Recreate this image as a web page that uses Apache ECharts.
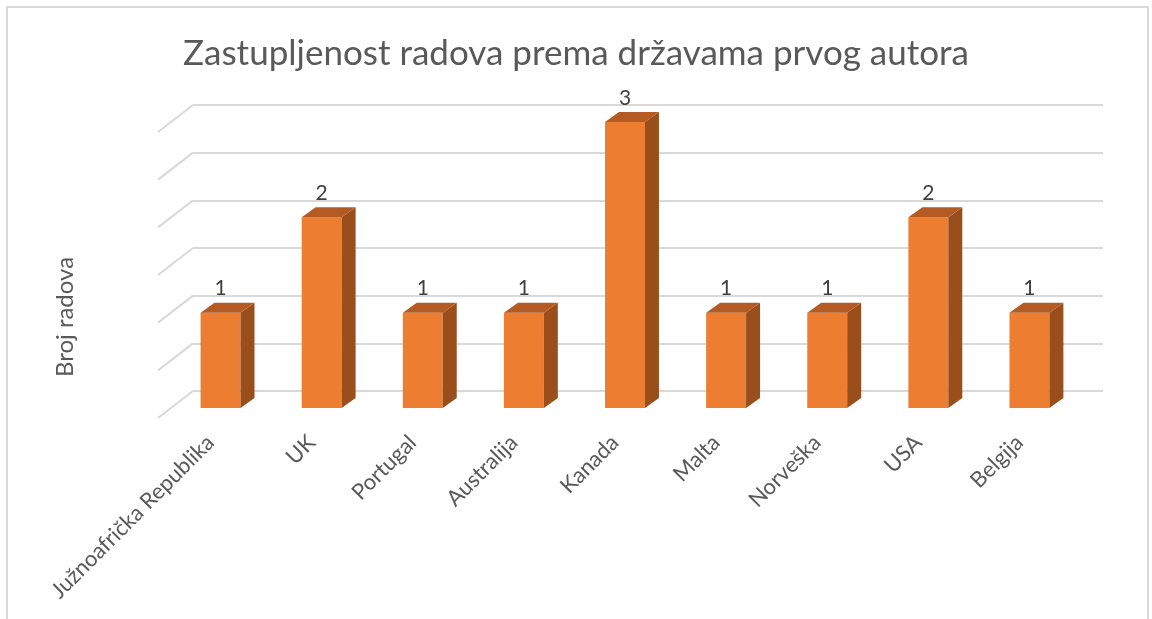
<!DOCTYPE html>
<html><head><meta charset="utf-8">
<script src="https://cdn.jsdelivr.net/npm/echarts@6/dist/echarts.min.js"></script>
<style>html,body{margin:0;padding:0;background:#fff}#c{width:1152px;height:619px}</style>
</head><body><div id="c"></div>
<script>
const categories = ['Južnoafrička Republika','UK','Portugal','Australija','Kanada','Malta','Norveška','USA','Belgija'];
const values = [1,2,1,1,3,1,1,2,1];
const yTicks = [0,0.5,1,1.5,2,2.5,3];
const titleText = 'Zastupljenost radova prema državama prvog autora';
const yAxisName = 'Broj radova';

const FONT = 'Lato, Carlito, "Liberation Sans", sans-serif';
const chart = echarts.init(document.getElementById('c'), null, {renderer:'canvas'});

function renderBar(params, api){
  const i = api.value(0), v = api.value(1);
  const top = api.coord([i, v]);
  const base = api.coord([i, 0]);
  const band = api.size([1,0])[0];
  const w = band*0.395;
  const dx = w*0.35, dy = w*0.25;
  const x0 = top[0]-w/2, x1 = top[0]+w/2;
  const yT = top[1], yB = base[1];
  return {type:'group', children:[
    {type:'rect', shape:{x:x0,y:yT,width:w,height:yB-yT}, style:{fill:'#ED7D31'}},
    {type:'polygon', shape:{points:[[x1,yT],[x1+dx,yT-dy],[x1+dx,yB-dy],[x1,yB]]}, style:{fill:'#9A4E1C'}},
    {type:'polygon', shape:{points:[[x0,yT],[x0+dx,yT-dy],[x1+dx,yT-dy],[x1,yT]]}, style:{fill:'#B35B22'}},
    {type:'text', x: top[0], y: yT-24, style:{text:String(v), textAlign:'center', textVerticalAlign:'middle', fontSize:21, fontFamily:FONT, fill:'#404040'}}
  ]};
}
function renderWall(params, api){
  const v = api.value(1);
  const p = api.coord([0, v]);
  const x = params.coordSys.x;
  return {type:'line', shape:{x1:x, y1:p[1], x2:x-35, y2:p[1]+27}, style:{stroke:'#D9D9D9', lineWidth:2}};
}

chart.setOption({
  animation:false,
  backgroundColor:'#fff',
  title:{text:titleText, left:'center', top:31, textStyle:{fontSize:35, fontWeight:'normal', color:'#595959', fontFamily:FONT}},
  grid:[
    {left:193, right:49, top:105, bottom:228},
    {left:170, right:72, top:122, bottom:211},
    {left:160, right:82, top:122, bottom:211}
  ],
  xAxis:[
    {gridIndex:0, type:'category', data:categories, show:false},
    {gridIndex:1, type:'category', data:categories, show:false},
    {gridIndex:2, type:'category', data:categories, axisLine:{show:false}, axisTick:{show:false},
     axisLabel:{rotate:45, margin:31, interval:0, fontSize:22, color:'#595959', fontFamily:FONT}}
  ],
  yAxis:[
    {gridIndex:0, type:'value', min:0, max:3, interval:0.5, axisLabel:{show:false}, axisLine:{show:false}, axisTick:{show:false},
     splitLine:{lineStyle:{color:'#D9D9D9', width:2}}},
    {gridIndex:1, type:'value', min:0, max:3, interval:0.5, show:false},
    {gridIndex:2, type:'value', min:0, max:3, interval:0.5, show:false}
  ],
  graphic:[
    {type:'rect', shape:{x:7, y:7, width:1141, height:700}, style:{fill:null, stroke:'#D9D9D9', lineWidth:2}, silent:true},
    {type:'text', x:65, y:317, rotation:Math.PI/2, style:{text:yAxisName, textAlign:'center', textVerticalAlign:'middle', fontSize:24, fontFamily:FONT, fill:'#595959'}}
  ],
  series:[
    {type:'custom', xAxisIndex:0, yAxisIndex:0, renderItem:renderWall, data:yTicks.map(t=>[0,t]), silent:true, z:1},
    {type:'custom', xAxisIndex:1, yAxisIndex:1, renderItem:renderBar, data:values.map((v,i)=>[i,v]), z:5}
  ]
});
</script></body></html>
